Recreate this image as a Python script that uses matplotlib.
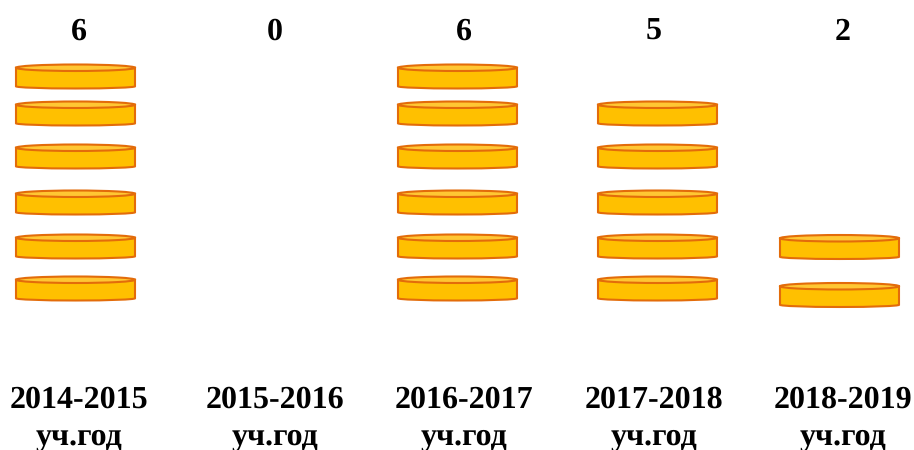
import matplotlib
matplotlib.use("Agg")
import matplotlib.pyplot as plt
from matplotlib.patches import Ellipse, PathPatch
from matplotlib.path import Path

years = ["2014-2015", "2015-2016", "2016-2017", "2017-2018", "2018-2019"]
counts = [6, 0, 6, 5, 2]
suffix = "уч.год"

# layout (pixel canvas)
W, H = 914, 450
label_x = [79, 275, 464, 654, 843]
disk_left = [16, None, 398, 598, 780]
disk_w = 119
slots = [276.5, 234.5, 190.5, 144.5, 101.5, 64.5]   # top of disk, bottom-up
col_slots = {4: [283, 235]}
disk_h = 24
ell_h = 6.5
bottom_r = 2.2

EDGE = "#E36C0A"
BODY = "#FFC000"
TOP = "#FFC733"

plt.rcParams["font.family"] = ["Liberation Serif", "DejaVu Serif"]
plt.rcParams["text.hinting"] = "no_hinting"
plt.rcParams["text.hinting_factor"] = 1
fig = plt.figure(figsize=(W / 100, H / 100), dpi=100)
ax = fig.add_axes([0, 0, 1, 1])
ax.set_xlim(0, W)
ax.set_ylim(H, 0)
ax.axis("off")


def disk(x, y):
    r = ell_h / 2
    k = 0.5523
    a = disk_w / 2
    cx = x + a
    xr = x + disk_w
    yt = y + r
    yb = y + disk_h - bottom_r
    verts = [(x, yt), (x, yb),
             (x, yb + bottom_r * k), (cx - a * k, yb + bottom_r), (cx, yb + bottom_r),
             (cx + a * k, yb + bottom_r), (xr, yb + bottom_r * k), (xr, yb),
             (xr, yt), (x, yt)]
    codes = [Path.MOVETO, Path.LINETO,
             Path.CURVE4, Path.CURVE4, Path.CURVE4,
             Path.CURVE4, Path.CURVE4, Path.CURVE4,
             Path.LINETO, Path.CLOSEPOLY]
    ax.add_patch(PathPatch(Path(verts, codes), fc=BODY, ec=EDGE, lw=1.5, zorder=2))
    ax.add_patch(Ellipse((cx, yt), disk_w, ell_h, fc=TOP, ec=EDGE, lw=1.5, zorder=3))


for i, n in enumerate(counts):
    ys = col_slots.get(i, slots)
    for j in range(n):
        disk(disk_left[i], ys[j])
    ax.text(label_x[i], 40, str(n), ha="center", va="baseline",
            fontsize=23, fontweight="bold", color="black")
    ax.text(label_x[i], 407.5, years[i], ha="center", va="baseline",
            fontsize=23, fontweight="bold", color="black")
    ax.text(label_x[i], 444.5, suffix, ha="center", va="baseline",
            fontsize=23, fontweight="bold", color="black")

fig.savefig("out.png", dpi=100, facecolor="white")
